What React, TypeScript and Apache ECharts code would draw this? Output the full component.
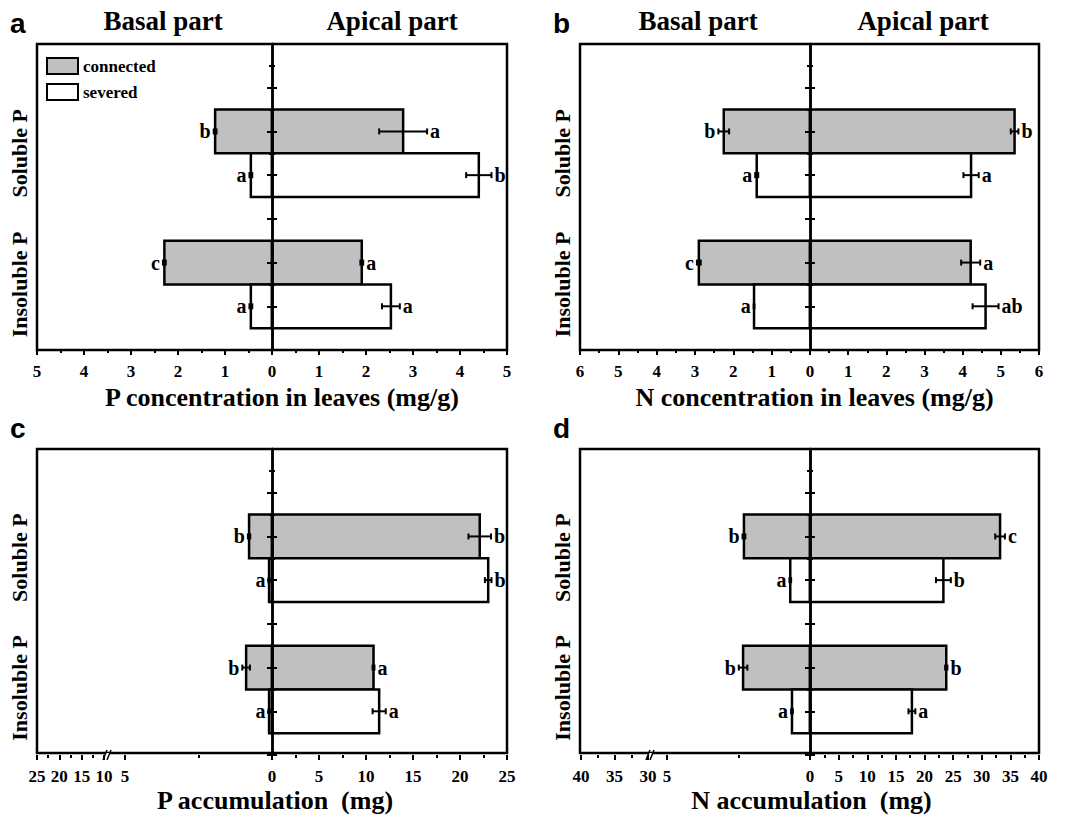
import React, { useEffect, useRef } from 'react';
import * as echarts from 'echarts';

const SERIF = '"Liberation Serif", "Times New Roman", serif';
const SANS = '"Liberation Sans", Arial, sans-serif';

const categories = ['Soluble P', 'Insoluble P'];
const conditions = ['connected', 'severed'];

// a: P concentration in leaves (mg/g)
const pConcBasalConnected = [1.21, 2.29];
const pConcBasalConnectedErr = [0.03, 0.03];
const pConcBasalConnectedLetters = ['b', 'c'];
const pConcBasalSevered = [0.45, 0.45];
const pConcBasalSeveredErr = [0.03, 0.03];
const pConcBasalSeveredLetters = ['a', 'a'];
const pConcApicalConnected = [2.79, 1.91];
const pConcApicalConnectedErr = [0.51, 0.03];
const pConcApicalConnectedLetters = ['a', 'a'];
const pConcApicalSevered = [4.4, 2.53];
const pConcApicalSeveredErr = [0.27, 0.19];
const pConcApicalSeveredLetters = ['b', 'a'];

// b: N concentration in leaves (mg/g)
const nConcBasalConnected = [2.25, 2.9];
const nConcBasalConnectedErr = [0.14, 0.05];
const nConcBasalConnectedLetters = ['b', 'c'];
const nConcBasalSevered = [1.39, 1.46];
const nConcBasalSeveredErr = [0.04, 0.01];
const nConcBasalSeveredLetters = ['a', 'a'];
const nConcApicalConnected = [5.36, 4.21];
const nConcApicalConnectedErr = [0.1, 0.25];
const nConcApicalConnectedLetters = ['b', 'a'];
const nConcApicalSevered = [4.22, 4.6];
const nConcApicalSeveredErr = [0.2, 0.34];
const nConcApicalSeveredLetters = ['a', 'ab'];

// c: P accumulation (mg)
const pAccBasalConnected = [0.78, 0.88];
const pAccBasalConnectedErr = [0.04, 0.13];
const pAccBasalConnectedLetters = ['b', 'b'];
const pAccBasalSevered = [0.1, 0.1];
const pAccBasalSeveredErr = [0.02, 0.02];
const pAccBasalSeveredLetters = ['a', 'a'];
const pAccApicalConnected = [22.1, 10.8];
const pAccApicalConnectedErr = [1.2, 0.1];
const pAccApicalConnectedLetters = ['b', 'a'];
const pAccApicalSevered = [23.0, 11.4];
const pAccApicalSeveredErr = [0.35, 0.7];
const pAccApicalSeveredLetters = ['b', 'a'];

// d: N accumulation (mg)
const nAccBasalConnected = [2.31, 2.34];
const nAccBasalConnectedErr = [0.05, 0.15];
const nAccBasalConnectedLetters = ['b', 'b'];
const nAccBasalSevered = [0.69, 0.63];
const nAccBasalSeveredErr = [0.03, 0.03];
const nAccBasalSeveredLetters = ['a', 'a'];
const nAccApicalConnected = [33.2, 23.8];
const nAccApicalConnectedErr = [0.85, 0.2];
const nAccApicalConnectedLetters = ['c', 'b'];
const nAccApicalSevered = [23.3, 17.8];
const nAccApicalSeveredErr = [1.3, 0.6];
const nAccApicalSeveredLetters = ['b', 'a'];

type SideData = { values: number[][]; errors: number[][]; letters: string[][] };
type Seg = { role: 'basal' | 'apical' | 'extra'; left: number; right: number; min: number; max: number; interval: number };
type Panel = {
  letter: string; frame: { left: number; top: number; width: number; height: number };
  segs: Seg[]; basal: SideData; apical: SideData; xName: string; namePad: number;
  titles?: { basalX: number; apicalX: number }; breakX?: number;
};

const panels: Panel[] = [
  {
    letter: 'a', frame: { left: 37, top: 44, width: 470, height: 306 },
    segs: [
      { role: 'basal', left: 37, right: 272, min: -5, max: 0, interval: 1 },
      { role: 'apical', left: 272, right: 507, min: 0, max: 5, interval: 1 },
    ],
    basal: { values: [pConcBasalConnected, pConcBasalSevered], errors: [pConcBasalConnectedErr, pConcBasalSeveredErr], letters: [pConcBasalConnectedLetters, pConcBasalSeveredLetters] },
    apical: { values: [pConcApicalConnected, pConcApicalSevered], errors: [pConcApicalConnectedErr, pConcApicalSeveredErr], letters: [pConcApicalConnectedLetters, pConcApicalSeveredLetters] },
    xName: 'P concentration in leaves (mg/g)', namePad: 20, titles: { basalX: 163, apicalX: 392 },
  },
  {
    letter: 'b', frame: { left: 580, top: 44, width: 459, height: 306 },
    segs: [
      { role: 'basal', left: 580, right: 810, min: -6, max: 0, interval: 1 },
      { role: 'apical', left: 810, right: 1039, min: 0, max: 6, interval: 1 },
    ],
    basal: { values: [nConcBasalConnected, nConcBasalSevered], errors: [nConcBasalConnectedErr, nConcBasalSeveredErr], letters: [nConcBasalConnectedLetters, nConcBasalSeveredLetters] },
    apical: { values: [nConcApicalConnected, nConcApicalSevered], errors: [nConcApicalConnectedErr, nConcApicalSeveredErr], letters: [nConcApicalConnectedLetters, nConcApicalSeveredLetters] },
    xName: 'N concentration in leaves (mg/g)', namePad: 10, titles: { basalX: 698, apicalX: 923 },
  },
  {
    letter: 'c', frame: { left: 37, top: 449, width: 470, height: 306 },
    segs: [
      { role: 'extra', left: 37, right: 104, min: -25, max: -10, interval: 5 },
      { role: 'basal', left: 125, right: 272, min: -5, max: 0, interval: 5 },
      { role: 'apical', left: 272, right: 507, min: 0, max: 25, interval: 5 },
    ],
    basal: { values: [pAccBasalConnected, pAccBasalSevered], errors: [pAccBasalConnectedErr, pAccBasalSeveredErr], letters: [pAccBasalConnectedLetters, pAccBasalSeveredLetters] },
    apical: { values: [pAccApicalConnected, pAccApicalSevered], errors: [pAccApicalConnectedErr, pAccApicalSeveredErr], letters: [pAccApicalConnectedLetters, pAccApicalSeveredLetters] },
    xName: 'P accumulation  (mg)', namePad: 6, breakX: 108,
  },
  {
    letter: 'd', frame: { left: 580, top: 449, width: 459, height: 306 },
    segs: [
      { role: 'extra', left: 581, right: 648, min: -40, max: -30, interval: 5 },
      { role: 'basal', left: 667, right: 810, min: -5, max: 0, interval: 5 },
      { role: 'apical', left: 810, right: 1039, min: 0, max: 40, interval: 5 },
    ],
    basal: { values: [nAccBasalConnected, nAccBasalSevered], errors: [nAccBasalConnectedErr, nAccBasalSeveredErr], letters: [nAccBasalConnectedLetters, nAccBasalSeveredLetters] },
    apical: { values: [nAccApicalConnected, nAccApicalSevered], errors: [nAccApicalConnectedErr, nAccApicalSeveredErr], letters: [nAccApicalConnectedLetters, nAccApicalSeveredLetters] },
    xName: 'N accumulation  (mg)', namePad: 4, breakX: 651,
  },
];

const fills = ['#c0c0c0', '#ffffff'];

function buildOption() {
  const grid: any[] = [];
  const xAxis: any[] = [];
  const yAxis: any[] = [];
  const series: any[] = [];
  const graphic: any[] = [];

  const tickLabel = { fontFamily: SERIF, fontWeight: 'bold', fontSize: 17, color: '#000', lineHeight: 18, margin: 12 };

  panels.forEach((p) => {
    const { left, top, width, height } = p.frame;
    // frame grid
    const fi = grid.length;
    grid.push({ left, top, width, height, show: true, borderColor: '#000', borderWidth: 2.5, backgroundColor: 'transparent' });
    xAxis.push({
      gridIndex: fi, type: 'value', min: 0, max: 1, position: 'bottom',
      axisLine: { show: false, onZero: false }, axisTick: { show: false }, axisLabel: { show: false }, splitLine: { show: false },
      name: p.xName, nameLocation: 'middle', nameGap: 32,
      nameTextStyle: { fontFamily: SERIF, fontWeight: 'bold', fontSize: 26, color: '#000', lineHeight: 30, padding: [0, 0, 0, p.namePad] },
    });
    yAxis.push({
      gridIndex: fi, type: 'value', min: 0, max: 7, inverse: true, position: 'left',
      axisLine: { show: false, onZero: false }, axisTick: { show: false }, splitLine: { show: false },
      axisLabel: {
        show: true, customValues: [2.5, 5.5], rotate: 90, margin: 5,
        formatter: (v: number) => categories[Math.round((v - 2.5) / 3)] ?? '',
        fontFamily: SERIF, fontWeight: 'bold', fontSize: 22, lineHeight: 26, color: '#000',
      },
    });

    p.segs.forEach((s) => {
      const gi = grid.length;
      grid.push({ left: s.left, top, width: s.right - s.left, height });
      xAxis.push({
        gridIndex: gi, type: 'value', min: s.min, max: s.max, interval: s.interval, position: 'bottom',
        axisLine: { show: false, onZero: false },
        axisTick: { show: true, length: 5, lineStyle: { color: '#000', width: 2 } },
        minorTick: { show: true, splitNumber: 2, length: 3, lineStyle: { color: '#000', width: 2 } },
        splitLine: { show: false }, minorSplitLine: { show: false },
        axisLabel: {
          ...tickLabel,
          formatter: (v: number) => (s.role === 'apical' ? String(v) : v === 0 ? '' : String(Math.abs(v))),
        },
      });
      const showY = s.role !== 'extra';
      yAxis.push({
        gridIndex: gi, type: 'value', min: 0, max: 7, interval: 1, inverse: true,
        position: s.role === 'basal' ? 'right' : 'left', show: showY, z: 10,
        axisLine: { show: showY, onZero: false, lineStyle: { color: '#000', width: 2.5 } },
        axisTick: { show: showY, inside: true, length: 5, lineStyle: { color: '#000', width: 2 } },
        minorTick: { show: showY, splitNumber: 2, length: 3, lineStyle: { color: '#000', width: 2 } },
        axisLabel: { show: false }, splitLine: { show: false },
      });
      if (s.role === 'extra') return;
      const side = s.role === 'basal' ? p.basal : p.apical;
      const sign = s.role === 'basal' ? -1 : 1;
      conditions.forEach((cond, ci) => {
        const letters = side.letters[ci];
        series.push({
          type: 'custom', name: cond, coordinateSystem: 'cartesian2d', xAxisIndex: gi, yAxisIndex: gi, clip: false,
          itemStyle: { color: fills[ci], borderColor: '#000', borderWidth: 2 },
          encode: { x: 0, y: 1 },
          data: side.values[ci].map((v, k) => [sign * v, 2 + ci + 3 * k, side.errors[ci][k]]),
          renderItem: (params: any, api: any) => {
            const v = api.value(0) as number;
            const y = api.value(1) as number;
            const e = api.value(2) as number;
            const a = api.coord([0, y - 0.5]);
            const b = api.coord([v, y + 0.5]);
            const lo = api.coord([v - e, y]);
            const hi = api.coord([v + e, y]);
            const l = Math.min(lo[0], hi[0]);
            const r = Math.max(lo[0], hi[0]);
            const cy = lo[1];
            const isBasal = sign < 0;
            return {
              type: 'group',
              children: [
                { type: 'rect', shape: { x: Math.min(a[0], b[0]), y: Math.min(a[1], b[1]), width: Math.abs(b[0] - a[0]), height: Math.abs(b[1] - a[1]) }, style: { fill: fills[ci], stroke: '#000', lineWidth: 2.5 } },
                { type: 'line', shape: { x1: l, y1: cy, x2: r, y2: cy }, style: { stroke: '#000', lineWidth: 2 } },
                { type: 'line', shape: { x1: l, y1: cy - 3, x2: l, y2: cy + 3 }, style: { stroke: '#000', lineWidth: 2 } },
                { type: 'line', shape: { x1: r, y1: cy - 3, x2: r, y2: cy + 3 }, style: { stroke: '#000', lineWidth: 2 } },
                {
                  type: 'text',
                  style: {
                    text: letters[params.dataIndex], x: isBasal ? l - 3 : r + 3, y: cy,
                    align: isBasal ? 'right' : 'left', verticalAlign: 'middle',
                    fill: '#000', fontFamily: SERIF, fontWeight: 'bold', fontSize: 20,
                  },
                },
              ],
            };
          },
        });
      });
    });

    // panel letter
    graphic.push({
      type: 'text', x: left - 27, y: top - 21, z: 100,
      style: { text: p.letter, fill: '#000', fontFamily: SANS, fontWeight: 'bold', fontSize: 28, align: 'left', verticalAlign: 'middle' },
    });
    if (p.titles) {
      graphic.push({ type: 'text', x: p.titles.basalX, y: 21, z: 100, style: { text: 'Basal part', fill: '#000', fontFamily: SERIF, fontWeight: 'bold', fontSize: 27, align: 'center', verticalAlign: 'middle' } });
      graphic.push({ type: 'text', x: p.titles.apicalX, y: 21, z: 100, style: { text: 'Apical part', fill: '#000', fontFamily: SERIF, fontWeight: 'bold', fontSize: 27, align: 'center', verticalAlign: 'middle' } });
    }
    if (p.breakX) {
      const bx = p.breakX;
      const by = top + height;
      graphic.push({ type: 'rect', z: 100, shape: { x: bx - 2, y: by - 2, width: 3, height: 4 }, style: { fill: '#fff' } });
      graphic.push({ type: 'line', z: 101, shape: { x1: bx - 5, y1: by + 5, x2: bx - 1, y2: by - 5 }, style: { stroke: '#000', lineWidth: 1.5 } });
      graphic.push({ type: 'line', z: 101, shape: { x1: bx - 1, y1: by + 5, x2: bx + 3, y2: by - 5 }, style: { stroke: '#000', lineWidth: 1.5 } });
    }
  });

  return {
    animation: false,
    backgroundColor: '#fff',
    legend: {
      show: true, orient: 'vertical', left: 41, top: 52, itemWidth: 31, itemHeight: 16, itemGap: 8,
      selectedMode: false, icon: 'rect',
      data: [
        { name: 'connected', itemStyle: { color: fills[0], borderColor: '#000', borderWidth: 2 } },
        { name: 'severed', itemStyle: { color: fills[1], borderColor: '#000', borderWidth: 2 } },
      ],
      textStyle: { fontFamily: SERIF, fontWeight: 'bold', fontSize: 17, color: '#000', lineHeight: 16 },
    },
    grid, xAxis, yAxis, series, graphic,
  };
}

export default function App() {
  const ref = useRef<HTMLDivElement>(null);
  useEffect(() => {
    if (!ref.current) return;
    const chart = echarts.init(ref.current, null, { renderer: 'svg' });
    chart.setOption(buildOption() as any);
    return () => chart.dispose();
  }, []);
  return <div ref={ref} style={{ position: 'fixed', left: 0, top: 0, width: 1076, height: 816, background: '#fff' }} />;
}
